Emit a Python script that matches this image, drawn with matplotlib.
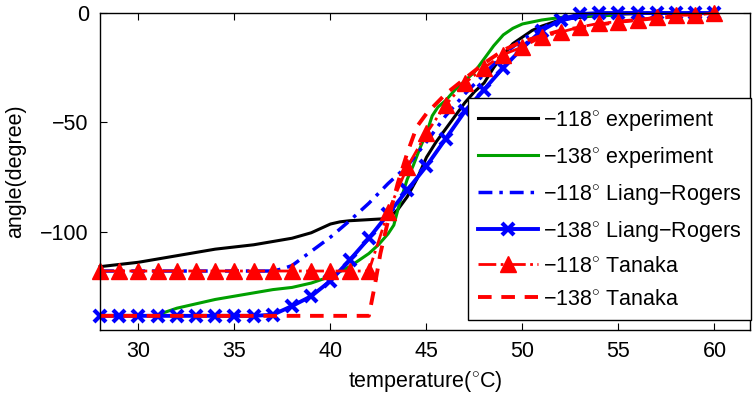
import numpy as np
import matplotlib.pyplot as plt

plt.rcParams['font.family'] = ['Liberation Sans', 'DejaVu Sans']
plt.rcParams['mathtext.fontset'] = 'custom'
plt.rcParams['mathtext.rm'] = 'Liberation Sans'
plt.rcParams['mathtext.it'] = 'Liberation Sans'

# -118 experiment (black)
exp118_x = [28, 29, 30, 31, 32, 33, 34, 35, 36, 37, 38, 39, 39.5, 40, 40.5, 41, 42, 43,
            43.5, 44, 44.5, 45, 45.5, 46, 46.5, 47, 47.5, 48, 48.5, 49, 49.5, 50, 50.5,
            51, 52, 53, 54, 55, 56]
exp118_y = [-116, -115, -114, -112.5, -111, -109.5, -108, -107, -106, -104.5, -103, -100.5,
            -98.5, -96.5, -95.5, -95, -94.5, -94, -90, -84, -76, -66, -59, -53, -47, -41,
            -36, -32, -25, -19, -14, -11, -8, -6, -3, -2, -1, -0.5, -0.3]

# -138 experiment (green)
exp138_x = [31, 32, 33, 34, 35, 36, 37, 38, 39, 40, 41, 41.5, 42, 42.5, 43, 43.3, 43.6, 44,
            44.3, 44.7, 45, 45.3, 45.6, 46, 46.5, 47, 47.5, 48, 48.5, 49, 49.5, 50, 51, 52,
            53, 55]
exp138_y = [-138, -135, -133, -131, -129.5, -128, -126.5, -125.5, -123.5, -120.5, -116,
            -113, -110, -106, -101, -97, -87, -76, -70, -61, -55, -47, -43, -40, -35, -31,
            -27, -21, -15, -10, -7, -5, -3.2, -2, -1.5, -1]

# -118 Liang-Rogers (blue dash-dot)
lr118_x = [28, 30, 33, 35, 37, 37.5, 38, 39, 40, 41, 42, 43, 44, 45, 46, 47, 48, 49, 50,
           51, 52, 53, 54, 55, 60]
lr118_y = [-118, -118, -118, -118, -118, -117, -115.5, -109, -102.5, -95, -87, -78, -70,
           -59, -47, -37, -28, -19, -12, -7, -3.5, -1.5, -0.5, 0, 0]

# -138 Liang-Rogers (blue with x markers)
lr138_x = list(range(28, 61))
lr138_y = [-138.5] * 9 + [-138, -134, -129.5, -122.5, -113, -103, -92, -81, -70, -57.5,
                          -45, -35, -25, -16, -8, -3, -0.5, 0, 0, 0, 0, 0, 0, 0]

# -118 Tanaka (red dash-dot with triangles)
tn118_x = list(range(28, 61))
tn118_y = [-118] * 15 + [-91, -70.5, -55, -42, -32, -25, -19, -15.5, -11, -8.7, -6.4,
                         -4.7, -4, -3.2, -1.8, -1, -1, 0]

# -138 Tanaka (red dashed)
tn138_x = [28, 42, 42.3, 42.6, 43, 43.5, 44, 44.5, 45, 46, 47, 48, 49, 50, 52, 55, 58, 60]
tn138_y = [-138.5, -138.5, -125, -110, -95, -78, -64, -52, -46, -37, -30, -23, -17, -13,
           -8, -4, -1.5, -0.5]

fig = plt.figure(figsize=(7.55, 4.03), dpi=100)
ax = fig.add_axes([0.1325, 0.181, 0.8609, 0.7867])

ax.plot(exp118_x, exp118_y, color='black', lw=2.2, clip_on=False,
        label=r'$-118^{\circ}$ experiment')
ax.plot(exp138_x, exp138_y, color='#00a000', lw=2.2, clip_on=False,
        label=r'$-138^{\circ}$ experiment')
ax.plot(lr118_x, lr118_y, color='blue', lw=2.5, linestyle=(0, (4, 2, 1, 2)), clip_on=False,
        label=r'$-118^{\circ}$ Liang$-$Rogers')
ax.plot(lr138_x, lr138_y, color='blue', lw=2.8, marker='x', ms=8, mew=3, clip_on=False,
        label=r'$-138^{\circ}$ Liang$-$Rogers')
ax.plot(tn118_x, tn118_y, color='red', lw=2, linestyle='-.', marker='^', ms=12,
        clip_on=False, label=r'$-118^{\circ}$ Tanaka')
ax.plot(tn138_x, tn138_y, color='red', lw=2.8, linestyle=(0, (3.5, 2.5)), clip_on=False,
        label=r'$-138^{\circ}$ Tanaka')

ax.set_xlim(28, 61.85)
ax.set_ylim(-145, 0)
ax.set_xticks([30, 35, 40, 45, 50, 55, 60])
ax.set_yticks([-100, -50, 0])
ax.tick_params(direction='in', length=5, labelsize=15.5, top=True, right=True, pad=8)
for s in ax.spines.values():
    s.set_linewidth(1)

ax.set_xlabel(r'temperature($^{\circ}$C)', fontsize=15.5, labelpad=5)
ax.set_ylabel('angle(degree)', fontsize=15.5, labelpad=10)

leg = ax.legend(loc='upper left', bbox_to_anchor=(0.566, 0.732), borderaxespad=0,
                fontsize=15.5, handlelength=2.8, handletextpad=0.25, labelspacing=0.56,
                borderpad=0.45, fancybox=False, framealpha=1, edgecolor='black')
leg.get_frame().set_linewidth(1)

fig.savefig('out.png', dpi=100)
